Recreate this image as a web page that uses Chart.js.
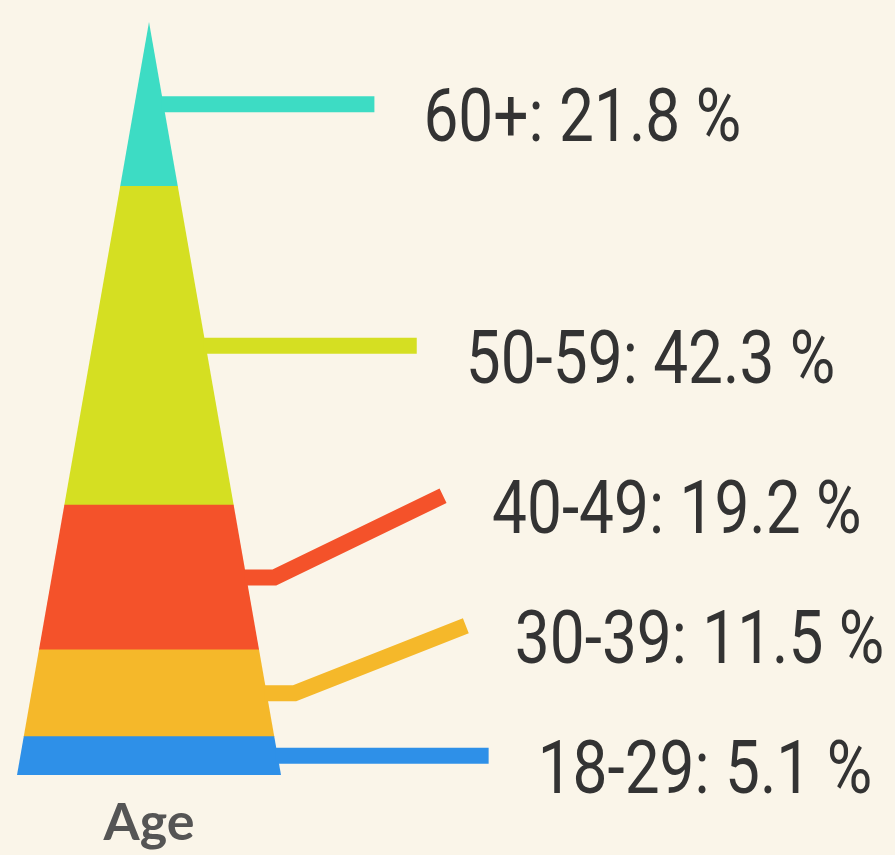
<!DOCTYPE html>
<html>
<head>
<meta charset="utf-8">
<script src="https://cdn.jsdelivr.net/npm/chart.js@4"></script>
<style>
  html, body { margin: 0; padding: 0; background: #faf5e9; }
  canvas { display: block; }
</style>
</head>
<body>
<canvas id="pyramid" width="895" height="855"></canvas>
<script>
// age groups, from the base of the pyramid up
var groups = ['18-29', '30-39', '40-49', '50-59', '60+'];
var shares = [5.1, 11.5, 19.2, 42.3, 21.8];
var colors = ['#2e90e8', '#f5b82a', '#f4522a', '#d5df22', '#3ddcc4'];
var axisLabel = ['Age'];

var total = 0;
shares.forEach(function(v) { total += v; });

var datasets = groups.map(function(g, i) {
  return {
    label: g,
    data: [shares[i]],
    backgroundColor: colors[i],
    borderWidth: 0,
    stack: 'age',
    barPercentage: 1,
    categoryPercentage: 1
  };
});

// cut the stacked bar down to a triangle
var triangleClip = {
  id: 'triangleClip',
  beforeDatasetsDraw: function(chart) {
    var ctx = chart.ctx;
    var a = chart.chartArea;
    var y = chart.scales.y;
    ctx.save();
    ctx.beginPath();
    ctx.moveTo((a.left + a.right) / 2, y.getPixelForValue(total));
    ctx.lineTo(a.right, y.getPixelForValue(0));
    ctx.lineTo(a.left, y.getPixelForValue(0));
    ctx.closePath();
    ctx.clip();
  },
  afterDatasetsDraw: function(chart) {
    chart.ctx.restore();
  }
};

// leader lines and the labels on the right
var leaders = {
  id: 'leaders',
  afterDraw: function(chart) {
    var ctx = chart.ctx;
    var a = chart.chartArea;
    var y = chart.scales.y;
    var apexX = (a.left + a.right) / 2;
    var apexY = y.getPixelForValue(total);
    var baseY = y.getPixelForValue(0);
    function edgeX(py) {
      return a.right + (apexX - a.right) * (py - baseY) / (apexY - baseY);
    }

    var mids = [];
    var cum = 0;
    shares.forEach(function(v) {
      mids.push(y.getPixelForValue(cum + v / 2));
      cum += v;
    });

    // push labels up so they do not overlap
    var gap = 130;
    var labelY = [];
    mids.forEach(function(m, i) {
      var ly = m;
      if (i > 0) ly = Math.min(m, labelY[i - 1] - gap);
      labelY.push(ly);
    });

    var reach = 211;
    ctx.save();
    ctx.lineWidth = 16;
    ctx.lineCap = 'butt';
    ctx.lineJoin = 'miter';
    groups.forEach(function(g, i) {
      var m = mids[i];
      var ly = labelY[i];
      var sx = edgeX(m) - 2;
      var ex = edgeX(ly) + reach;
      ctx.strokeStyle = colors[i];
      ctx.beginPath();
      ctx.moveTo(sx, m);
      if (Math.abs(ly - m) > 0.5) {
        ctx.lineTo(sx + 30, m);
      }
      ctx.lineTo(ex, ly);
      ctx.stroke();

      ctx.save();
      ctx.translate(ex + 49, ly + 37);
      ctx.scale(0.84, 1);
      ctx.fillStyle = '#333333';
      ctx.font = '74px Roboto';
      ctx.textBaseline = 'alphabetic';
      ctx.textAlign = 'left';
      ctx.fillText(g + ': ' + shares[i] + ' %', 0, 0);
      ctx.restore();
    });
    ctx.restore();
  }
};

new Chart(document.getElementById('pyramid'), {
  type: 'bar',
  data: {
    labels: axisLabel,
    datasets: datasets
  },
  options: {
    responsive: false,
    animation: false,
    layout: {
      padding: { left: 17, right: 614, top: 22, bottom: 3 }
    },
    plugins: {
      legend: { display: false },
      tooltip: { enabled: false }
    },
    scales: {
      x: {
        stacked: true,
        grid: { display: false, drawTicks: false },
        border: { display: false },
        afterFit: function(scale) { scale.height = 77; },
        ticks: {
          color: '#555555',
          padding: 22,
          font: { family: 'Lato', size: 52, weight: 'bold', lineHeight: 1 }
        }
      },
      y: {
        stacked: true,
        display: false,
        min: 0,
        max: total
      }
    }
  },
  plugins: [triangleClip, leaders]
});
</script>
</body>
</html>
